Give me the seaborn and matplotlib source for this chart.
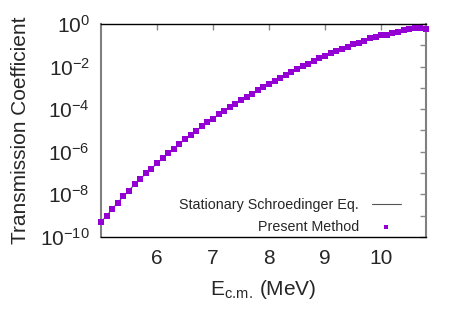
import numpy as np
import pandas as pd
import seaborn as sns
import matplotlib.pyplot as plt
from matplotlib.ticker import LogLocator, FixedLocator, FuncFormatter

# energies (MeV), 0.1 MeV steps
energy = [5.0, 5.1, 5.2, 5.3, 5.4, 5.5, 5.6, 5.7, 5.8, 5.9,
          6.0, 6.1, 6.2, 6.3, 6.4, 6.5, 6.6, 6.7, 6.8, 6.9,
          7.0, 7.1, 7.2, 7.3, 7.4, 7.5, 7.6, 7.7, 7.8, 7.9,
          8.0, 8.1, 8.2, 8.3, 8.4, 8.5, 8.6, 8.7, 8.8, 8.9,
          9.0, 9.1, 9.2, 9.3, 9.4, 9.5, 9.6, 9.7, 9.8, 9.9,
          10.0, 10.1, 10.2, 10.3, 10.4, 10.5, 10.6, 10.7, 10.8]

# transmission coefficient (present method)
trans_present = [4.9e-10, 9.8e-10, 2.0e-9, 4.1e-9, 7.9e-9, 1.5e-8, 2.9e-8, 5.1e-8, 9.5e-8, 1.6e-7,
                 2.8e-7, 4.8e-7, 8.3e-7, 1.4e-6, 2.3e-6, 3.8e-6, 6.0e-6, 9.5e-6, 1.55e-5, 2.4e-5,
                 3.6e-5, 5.6e-5, 8.3e-5, 1.26e-4, 1.78e-4, 2.6e-4, 3.7e-4, 5.2e-4, 7.6e-4, 1.05e-3,
                 1.45e-3, 2.0e-3, 3.0e-3, 4.0e-3, 5.8e-3, 7.6e-3, 1.02e-2, 1.35e-2, 1.8e-2, 2.45e-2,
                 3.2e-2, 4.2e-2, 5.1e-2, 6.6e-2, 8.5e-2, 0.11, 0.13, 0.166, 0.21, 0.25,
                 0.30, 0.32, 0.38, 0.44, 0.50, 0.58, 0.63, 0.63, 0.60]

# stationary Schroedinger equation result (coincides with the points)
trans_exact = list(trans_present)

x_ticks = [6, 7, 8, 9, 10]

sns.set_style('white')
plt.rcParams['font.family'] = ['Liberation Sans', 'DejaVu Sans']
plt.rcParams['mathtext.default'] = 'regular'

df = pd.DataFrame({'E': energy, 'exact': trans_exact, 'present': trans_present})

fig = plt.figure(figsize=(4.63, 3.24), dpi=100)
ax = fig.add_axes([0.218, 0.269, 0.702, 0.657])

sns.lineplot(data=df, x='E', y='exact', ax=ax, color='#555555', linewidth=0.8,
             label='Stationary Schroedinger Eq.')
sns.scatterplot(data=df, x='E', y='present', ax=ax, color='#9400D3', marker='s',
                s=13, linewidth=0, label='Present Method', zorder=3, clip_on=False)

ax.set_yscale('log')
ax.set_xlim(5.0, 10.8)
ax.set_ylim(1e-10, 1)

ax.xaxis.set_major_locator(FixedLocator(x_ticks))
ax.yaxis.set_major_locator(LogLocator(base=10, subs=(1.0,), numticks=20))
ax.yaxis.set_minor_locator(LogLocator(base=10, subs=(), numticks=20))


def ylab(v, pos):
    e = int(round(np.log10(v)))
    if e % 2 != 0:
        return ''
    return r'$10^{%s}$' % ('-' + str(-e) if e < 0 else str(e))


ax.yaxis.set_major_formatter(FuncFormatter(ylab))
ax.xaxis.set_major_formatter(FuncFormatter(lambda v, p: '%d' % v))

ax.tick_params(axis='both', which='major', direction='in', length=4, width=1,
               color='#888888', labelsize=15, top=True, right=True, pad=8)
ax.tick_params(axis='x', pad=9)

for s in ['top', 'bottom']:
    ax.spines[s].set_color('black')
    ax.spines[s].set_linewidth(1.0)
for s in ['left', 'right']:
    ax.spines[s].set_color('#808080')
    ax.spines[s].set_linewidth(1.5)

ax.set_xlabel(r'E$_{c.\!m.\!}$ (MeV)', fontsize=15, labelpad=7)
ax.set_ylabel('Transmission Coefficient', fontsize=15, labelpad=7)

ax.legend(loc='lower right', bbox_to_anchor=(0.962, -0.045), frameon=False,
          markerfirst=False, fontsize=10.3, handlelength=2.0, labelspacing=0.55,
          handletextpad=0.9, markerscale=0.9)

fig.savefig('out.png', dpi=100)
